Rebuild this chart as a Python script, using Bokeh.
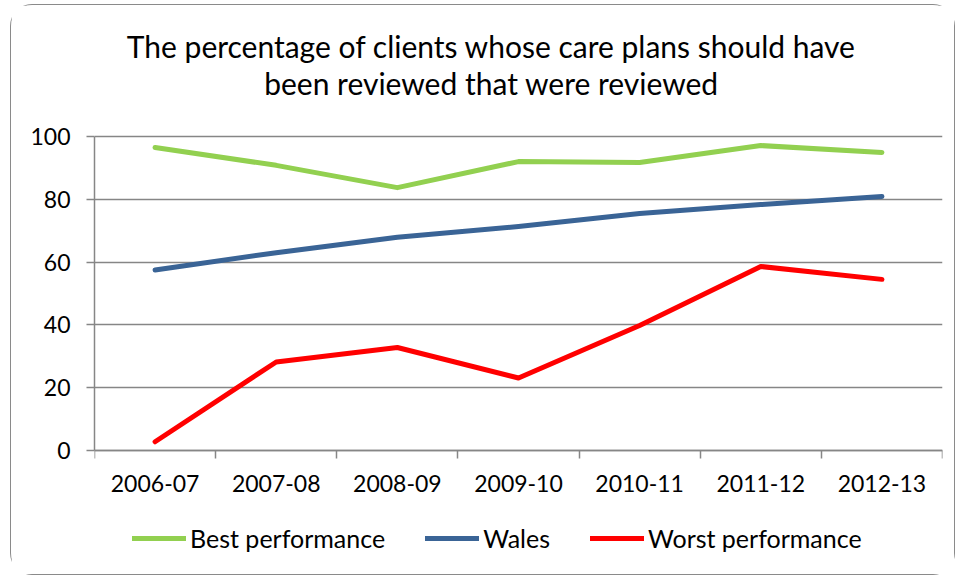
import numpy as np
from bokeh.plotting import figure
from bokeh.models import FixedTicker, Range1d, Label, Legend, LegendItem
from bokeh.embed import file_html
from bokeh.resources import INLINE

categories = ["2006-07", "2007-08", "2008-09", "2009-10", "2010-11", "2011-12", "2012-13"]
best = [96.5, 90.8, 83.7, 92.0, 91.7, 97.1, 94.9]
wales = [57.5, 63.0, 67.9, 71.3, 75.5, 78.3, 80.9]
worst = [2.8, 28.2, 32.8, 23.1, 39.8, 58.6, 54.5]
y_ticks = [0, 20, 40, 60, 80, 100]
title_lines = ["The percentage of clients whose care plans should have",
               "been reviewed that were reviewed"]

FONT = "Lato"
GRAY = "#868686"

xc = np.arange(len(categories)) + 0.5

# the frame also holds the title (above 100) and legend (below the axis)
p = figure(width=945, height=571, output_backend="svg", toolbar_location=None,
           x_range=Range1d(0, len(categories)), y_range=Range1d(-36.6, 140.1),
           min_border_left=83, min_border_right=14, min_border_top=5, min_border_bottom=11)
p.styles = {"border": "1.5px solid #8a8a8a", "border-radius": "22px",
            "box-sizing": "border-box", "margin-left": "10px", "margin-top": "4px"}
p.outline_line_color = None
p.background_fill_color = "white"
p.border_fill_color = "white"

r_best = p.line(xc, best, line_color="#92D050", line_width=5, line_cap="round", line_join="round")
r_wales = p.line(xc, wales, line_color="#3A6496", line_width=5, line_cap="round", line_join="round")
r_worst = p.line(xc, worst, line_color="#FF0000", line_width=5, line_cap="round", line_join="round")

# x axis, fixed at y = 0
p.xaxis.fixed_location = 0
p.xaxis.bounds = (0, len(categories))
p.xaxis.ticker = FixedTicker(ticks=list(xc), minor_ticks=list(range(len(categories) + 1)))
p.xaxis.major_label_overrides = {float(v): c for v, c in zip(xc, categories)}
p.xaxis.major_tick_line_color = None
p.xaxis.minor_tick_line_color = GRAY
p.xaxis.minor_tick_line_width = 1.5
p.xaxis.minor_tick_in = 0
p.xaxis.minor_tick_out = 8
p.xaxis.axis_line_color = GRAY
p.xaxis.axis_line_width = 1.5
p.xaxis.major_label_text_font = FONT
p.xaxis.major_label_text_font_size = "23px"
p.xaxis.major_label_text_color = "black"
p.xaxis.major_label_standoff = 16
p.xgrid.grid_line_color = None

# y axis
p.yaxis.bounds = (0, 100)
p.yaxis.ticker = FixedTicker(ticks=y_ticks, minor_ticks=[])
p.yaxis.major_tick_line_color = GRAY
p.yaxis.major_tick_line_width = 1.5
p.yaxis.major_tick_in = 0
p.yaxis.major_tick_out = 8
p.yaxis.axis_line_color = GRAY
p.yaxis.axis_line_width = 1.5
p.yaxis.major_label_text_font = FONT
p.yaxis.major_label_text_font_size = "23px"
p.yaxis.major_label_text_color = "black"
p.yaxis.major_label_standoff = 16
p.ygrid.grid_line_color = GRAY
p.ygrid.grid_line_width = 1.5
p.ygrid.ticker = FixedTicker(ticks=y_ticks)

# title lines
for txt, yy in zip(title_lines, [128.7, 116.9]):
    p.add_layout(Label(x=3.277, y=yy, text=txt, text_align="center", text_baseline="middle",
                       text_font=FONT, text_font_size="30px", text_color="black"))

legend = Legend(items=[LegendItem(label="Best performance", renderers=[r_best]),
                       LegendItem(label="Wales", renderers=[r_wales]),
                       LegendItem(label="Worst performance", renderers=[r_worst])],
                orientation="horizontal", location=(38, 12),
                glyph_width=54, glyph_height=20, label_standoff=4, spacing=40,
                padding=0, margin=0, border_line_color=None, background_fill_alpha=0,
                label_text_font=FONT, label_text_font_size="25px", label_text_color="black")
p.add_layout(legend, "center")

open("out.html", "w").write(file_html(p, INLINE))
